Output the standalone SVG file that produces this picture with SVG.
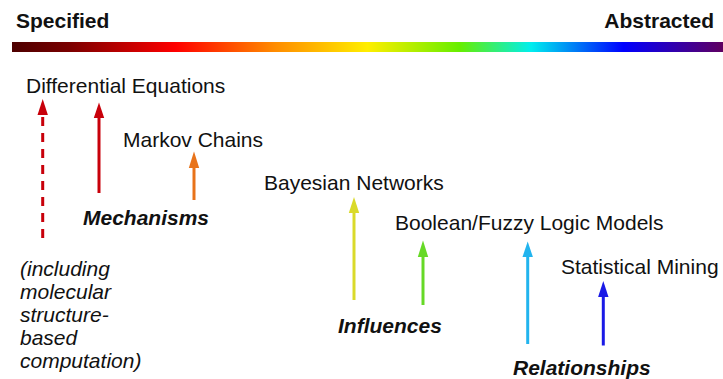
<svg xmlns="http://www.w3.org/2000/svg" width="723" height="379" viewBox="0 0 723 379">
<defs>
<linearGradient id="spectrum" x1="0" y1="0" x2="1" y2="0">
<stop offset="0" stop-color="#4d0000"/>
<stop offset="0.08" stop-color="#7a0000"/>
<stop offset="0.23" stop-color="#ff0000"/>
<stop offset="0.37" stop-color="#ff8c00"/>
<stop offset="0.50" stop-color="#ffee00"/>
<stop offset="0.63" stop-color="#66ee00"/>
<stop offset="0.73" stop-color="#00eeee"/>
<stop offset="0.86" stop-color="#0000ff"/>
<stop offset="1" stop-color="#600060"/>
</linearGradient>
</defs>
<style>
text{font-family:"Liberation Sans",Arial,sans-serif;fill:#111;}
.hdr{font-size:21px;font-weight:bold;}
.lbl{font-size:21px;}
.cat{font-size:21px;font-weight:bold;font-style:italic;}
.note{font-size:21px;font-style:italic;}
.shaft{stroke-width:3;fill:none;}
</style>
<rect width="723" height="379" fill="#ffffff"/>
<g id="header">
<text class="hdr" x="16" y="28">Specified</text>
<text class="hdr" x="714" y="28" text-anchor="end">Abstracted</text>
<rect x="12" y="42" width="711" height="10" fill="url(#spectrum)"/>
</g>
<g id="connectors">
<line class="shaft" x1="42.7" y1="238" x2="42.7" y2="114" stroke="#c8000a" stroke-dasharray="9 7"/>
<polygon points="42.7,99 37.5,115 47.9,115" fill="#c8000a"/>
<line class="shaft" x1="99" y1="193" x2="99" y2="116" stroke="#c8000a"/>
<polygon points="99,102.5 93.8,118 104.2,118" fill="#c8000a"/>
<line class="shaft" x1="194" y1="200" x2="194" y2="166" stroke="#e8731a"/>
<polygon points="194,151.5 188.8,168 199.2,168" fill="#e8731a"/>
<line class="shaft" x1="354" y1="300" x2="354" y2="211" stroke="#dada2a"/>
<polygon points="354,197 348.8,213 359.2,213" fill="#dada2a"/>
<line class="shaft" x1="423" y1="305" x2="423" y2="255" stroke="#66d926"/>
<polygon points="423,240.5 417.8,257 428.2,257" fill="#66d926"/>
<line class="shaft" x1="527.7" y1="344" x2="527.7" y2="255" stroke="#22b4ee"/>
<polygon points="527.7,241.5 522.5,257 532.9,257" fill="#22b4ee"/>
<line class="shaft" x1="603.3" y1="345.5" x2="603.3" y2="295" stroke="#1a1ae6"/>
<polygon points="603.3,281 598.1,297 608.5,297" fill="#1a1ae6"/>
</g>
<g id="node-differential-equations"><text class="lbl" x="26" y="93">Differential Equations</text></g>
<g id="node-markov-chains"><text class="lbl" x="123" y="147">Markov Chains</text></g>
<g id="node-bayesian-networks"><text class="lbl" x="264" y="190">Bayesian Networks</text></g>
<g id="node-boolean-fuzzy"><text class="lbl" x="395" y="230">Boolean/Fuzzy Logic Models</text></g>
<g id="node-statistical-mining"><text class="lbl" x="561" y="274">Statistical Mining</text></g>
<g id="node-mechanisms"><text class="cat" x="83" y="225">Mechanisms</text></g>
<g id="node-influences"><text class="cat" x="338" y="333">Influences</text></g>
<g id="node-relationships"><text class="cat" x="513" y="375">Relationships</text></g>
<g id="node-note">
<text class="note" x="20">
<tspan x="20" y="276">(including</tspan>
<tspan x="20" y="299">molecular</tspan>
<tspan x="20" y="322">structure-</tspan>
<tspan x="20" y="345">based</tspan>
<tspan x="20" y="368">computation)</tspan>
</text>
</g>
</svg>
